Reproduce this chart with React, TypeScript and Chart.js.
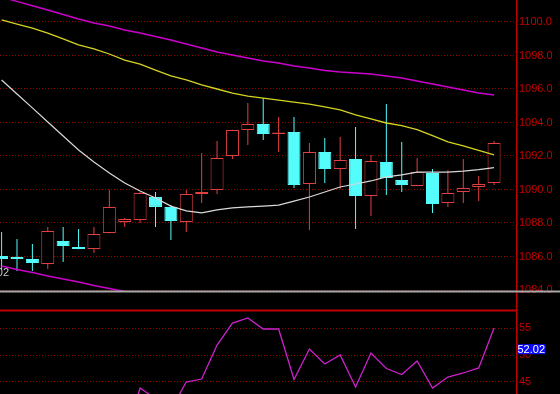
import React, { useEffect, useRef } from "react";
import { Chart, registerables } from "chart.js";

Chart.register(...registerables);

// ---------- data ----------
const opens = [1086.03, 1085.97, 1085.85, 1085.55, 1086.93, 1086.57, 1086.45, 1087.40, 1088.06, 1088.18, 1089.55, 1088.96, 1088.06, 1089.73, 1089.97, 1092.00, 1093.55, 1093.91, 1093.31, 1093.43, 1090.33, 1092.24, 1091.22, 1091.82, 1089.61, 1091.64, 1090.57, 1090.21, 1090.99, 1089.19, 1089.85, 1090.15, 1090.39];
const highs = [1087.46, 1087.04, 1086.75, 1087.76, 1087.76, 1087.64, 1087.76, 1089.97, 1088.30, 1089.85, 1089.85, 1089.07, 1089.97, 1092.18, 1092.90, 1093.56, 1095.16, 1095.46, 1094.33, 1094.33, 1092.78, 1093.07, 1093.13, 1093.73, 1092.06, 1095.10, 1092.84, 1091.88, 1091.22, 1091.16, 1091.82, 1090.81, 1092.90];
const lows = [1085.19, 1085.13, 1085.13, 1085.25, 1085.67, 1086.43, 1086.21, 1087.38, 1087.76, 1088.00, 1087.76, 1086.99, 1087.46, 1089.19, 1089.73, 1091.82, 1092.66, 1092.96, 1092.24, 1090.09, 1087.58, 1090.39, 1090.03, 1087.64, 1088.42, 1089.67, 1089.85, 1090.20, 1088.60, 1088.96, 1089.19, 1089.31, 1090.27];
const closes = [1085.85, 1085.85, 1085.61, 1087.52, 1086.63, 1086.45, 1087.34, 1088.96, 1088.24, 1089.79, 1088.96, 1088.12, 1089.73, 1089.85, 1091.88, 1093.55, 1093.91, 1093.31, 1093.40, 1090.27, 1092.24, 1091.22, 1091.76, 1089.61, 1091.70, 1090.69, 1090.27, 1091.04, 1089.13, 1089.79, 1090.09, 1090.33, 1092.78];

const maWhite = [1096.54, 1095.70, 1094.87, 1094.03, 1093.19, 1092.36, 1091.64, 1090.99, 1090.39, 1089.91, 1089.49, 1089.01, 1088.72, 1088.60, 1088.78, 1088.90, 1088.96, 1089.01, 1089.07, 1089.31, 1089.55, 1089.85, 1090.15, 1090.33, 1090.51, 1090.75, 1090.87, 1091.04, 1091.04, 1091.04, 1091.10, 1091.19, 1091.31];
const maYellow = [1100.12, 1099.88, 1099.64, 1099.34, 1098.99, 1098.63, 1098.39, 1098.09, 1097.73, 1097.49, 1097.13, 1096.78, 1096.54, 1096.24, 1096.00, 1095.76, 1095.58, 1095.46, 1095.34, 1095.22, 1095.10, 1094.93, 1094.75, 1094.45, 1094.21, 1093.97, 1093.82, 1093.58, 1093.22, 1092.84, 1092.60, 1092.33, 1092.06];
const maMagenta = [1101.49, 1101.23, 1100.97, 1100.72, 1100.45, 1100.18, 1099.94, 1099.76, 1099.52, 1099.34, 1099.13, 1098.93, 1098.69, 1098.45, 1098.21, 1098.03, 1097.85, 1097.67, 1097.55, 1097.37, 1097.25, 1097.10, 1097.01, 1096.96, 1096.90, 1096.78, 1096.66, 1096.48, 1096.30, 1096.12, 1095.94, 1095.76, 1095.64];
const bandLower = [1085.43, 1085.22, 1085.04, 1084.84, 1084.66, 1084.48, 1084.27, 1084.09, 1083.91, 1083.72];

const indicatorStart = 8;
const indicator = [35.0, 43.82, 41.8, 39.8, 44.94, 45.5, 51.87, 55.99, 56.93, 54.87, 54.87, 45.41, 51.12, 48.31, 50.0, 44.0, 50.37, 47.47, 46.35, 48.88, 43.82, 45.88, 46.63, 47.57, 55.06];

const priceTicks = [1084, 1086, 1088, 1090, 1092, 1094, 1096, 1098, 1100];
const indicatorTicks = [45, 50, 55];
const lowMarkValue = 1085.02;
const lowMarkLabel = "1085.02";
const indicatorMarkValue = 52.02;
const indicatorMarkLabel = "52.02";

// ---------- layout / style ----------
const W = 560;
const H = 394;
const MAIN_H = 301;
const MAIN_PLOT_BOTTOM = 292;
const SUB_TOP = 301;
const SUB_H = H - SUB_TOP;
const SUB_PLOT_TOP = 9;
const AXIS_W = 44;

const RED = "#e04040";
const CYAN = "#54fcfc";
const AXIS_RED = "#c00000";
const GRID_RED = "#9a0000";
const FONT = '"Liberation Sans", Arial, sans-serif';

const X_MIN = -0.104;
const X_MAX = 33.425;

const idx = opens.map((_, i) => i);

function fitAxis(scale: any) {
  scale.width = AXIS_W;
  scale.paddingTop = 0;
  scale.paddingBottom = 0;
}

const mainDecor = {
  id: "mainDecor",
  afterDraw(chart: any) {
    const { ctx, chartArea, width, height } = chart;
    const y = chart.scales.y;
    ctx.save();
    ctx.fillStyle = "#c8c8c8";
    ctx.font = `11px ${FONT}`;
    ctx.textAlign = "right";
    ctx.textBaseline = "middle";
    ctx.fillText(lowMarkLabel, 9, y.getPixelForValue(lowMarkValue));
    ctx.strokeStyle = AXIS_RED;
    ctx.lineWidth = 1.5;
    ctx.beginPath();
    ctx.moveTo(chartArea.right + 0.75, 0);
    ctx.lineTo(chartArea.right + 0.75, height);
    ctx.stroke();
    ctx.strokeStyle = "#a8a8a8";
    ctx.lineWidth = 2;
    ctx.beginPath();
    ctx.moveTo(0, chartArea.bottom - 0.5);
    ctx.lineTo(width, chartArea.bottom - 0.5);
    ctx.stroke();
    ctx.restore();
  },
};

const subDecor = {
  id: "subDecor",
  afterDraw(chart: any) {
    const { ctx, chartArea, height } = chart;
    const y = chart.scales.y;
    ctx.save();
    ctx.strokeStyle = AXIS_RED;
    ctx.lineWidth = 2;
    ctx.beginPath();
    ctx.moveTo(0, chartArea.top + 0.5);
    ctx.lineTo(chartArea.right + 1, chartArea.top + 0.5);
    ctx.stroke();
    ctx.lineWidth = 1.5;
    ctx.beginPath();
    ctx.moveTo(chartArea.right + 0.75, 0);
    ctx.lineTo(chartArea.right + 0.75, height);
    ctx.stroke();
    const top = y.getPixelForValue(indicatorMarkValue);
    ctx.font = `11px ${FONT}`;
    const tw = ctx.measureText(indicatorMarkLabel).width;
    ctx.fillStyle = "#0a0aff";
    ctx.fillRect(chartArea.right + 1, top, tw + 1, 10);
    ctx.fillStyle = "#ffffff";
    ctx.textAlign = "left";
    ctx.textBaseline = "middle";
    ctx.fillText(indicatorMarkLabel, chartArea.right + 1.5, top + 5.5);
    ctx.restore();
  },
};

function lineSet(values: number[], color: string, width: number, start = 0) {
  return {
    type: "line",
    data: values.map((v, i) => ({ x: idx[i + start] ?? i + start, y: v })),
    borderColor: color,
    borderWidth: width,
    pointRadius: 0,
    tension: 0,
    fill: false,
    order: 0,
  };
}

function yAxis(min: number, max: number, ticks: number[], fmt: (v: number) => string) {
  return {
    type: "linear",
    position: "right",
    min,
    max,
    afterFit: fitAxis,
    afterBuildTicks: (s: any) => {
      s.ticks = ticks.map((v) => ({ value: v }));
    },
    grid: { color: GRID_RED, lineWidth: 1, drawTicks: false },
    border: { display: false, dash: [1, 2] },
    ticks: {
      color: AXIS_RED,
      padding: 3,
      autoSkip: false,
      font: { family: FONT, size: 11 },
      callback: (v: any) => fmt(Number(v)),
    },
  };
}

export default function App() {
  const mainRef = useRef<HTMLCanvasElement>(null);
  const subRef = useRef<HTMLCanvasElement>(null);

  useEffect(() => {
    const up = idx.map((i) => closes[i] >= opens[i]);
    const main = new Chart(mainRef.current as HTMLCanvasElement, {
      type: "line",
      data: {
        datasets: [
          lineSet(maMagenta, "#cc00cc", 1.5),
          lineSet(maYellow, "#d4d420", 1.3),
          lineSet(maWhite, "#d8d8d8", 1.2),
          lineSet(bandLower, "#cc00cc", 1.5),
          {
            type: "bar",
            data: idx.map((i) => ({ x: i, y: [opens[i], closes[i]] })),
            backgroundColor: up.map((u) => (u ? "#000000" : CYAN)),
            borderColor: up.map((u) => (u ? RED : CYAN)),
            borderWidth: 1,
            borderSkipped: false,
            barThickness: 13,
            grouped: false,
            inflateAmount: 0,
            order: 1,
          },
          {
            type: "bar",
            data: idx.map((i) => ({ x: i, y: [lows[i], highs[i]] })),
            backgroundColor: up.map((u) => (u ? RED : CYAN)),
            borderWidth: 0,
            barThickness: 1,
            grouped: false,
            inflateAmount: 0,
            order: 2,
          },
        ] as any,
      },
      options: {
        responsive: false,
        maintainAspectRatio: false,
        animation: false,
        events: [],
        layout: { padding: { left: 0, right: 0, top: 0, bottom: MAIN_H - MAIN_PLOT_BOTTOM } },
        plugins: { legend: { display: false }, tooltip: { enabled: false } },
        scales: {
          x: { type: "linear", min: X_MIN, max: X_MAX, display: false, offset: false },
          y: yAxis(1083.8806, 1101.3134, priceTicks, (v) => v.toFixed(1)),
        } as any,
      },
      plugins: [mainDecor],
    } as any);

    const sub = new Chart(subRef.current as HTMLCanvasElement, {
      type: "line",
      data: {
        datasets: [lineSet(indicator, "#cc22cc", 1.3, indicatorStart)] as any,
      },
      options: {
        responsive: false,
        maintainAspectRatio: false,
        animation: false,
        events: [],
        layout: { padding: { left: 0, right: 0, top: SUB_PLOT_TOP, bottom: 0 } },
        plugins: { legend: { display: false }, tooltip: { enabled: false } },
        scales: {
          x: { type: "linear", min: X_MIN, max: X_MAX, display: false, offset: false },
          y: yAxis(42.697, 58.427, indicatorTicks, (v) => String(v)),
        } as any,
      },
      plugins: [subDecor],
    } as any);

    return () => {
      main.destroy();
      sub.destroy();
    };
  }, []);

  return (
    <div
      style={{
        position: "fixed",
        left: 0,
        top: 0,
        width: W,
        height: H,
        background: "#000000",
        overflow: "hidden",
      }}
    >
      <canvas
        ref={mainRef}
        width={W}
        height={MAIN_H}
        style={{ position: "absolute", left: 0, top: 0, display: "block" }}
      />
      <canvas
        ref={subRef}
        width={W}
        height={SUB_H}
        style={{ position: "absolute", left: 0, top: SUB_TOP, display: "block" }}
      />
    </div>
  );
}
